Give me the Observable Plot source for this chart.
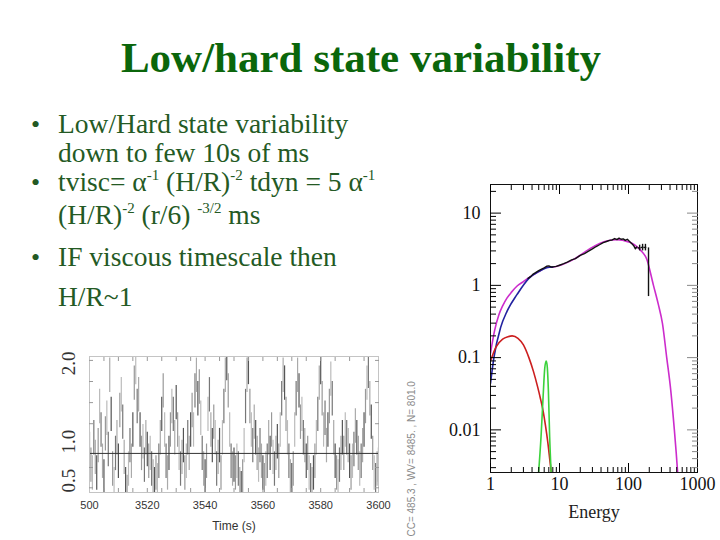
<!DOCTYPE html>
<html><head><meta charset="utf-8">
<script src="https://cdn.jsdelivr.net/npm/d3@7"></script>
<script src="https://cdn.jsdelivr.net/npm/@observablehq/plot@0.6"></script>
<style>
body{margin:0;width:720px;height:540px;overflow:hidden;background:#fff;position:relative;font-family:"Liberation Serif","Times New Roman",serif;}
#title{position:absolute;left:0;top:36px;width:722px;text-align:center;font-weight:bold;font-size:43px;color:#0b660b;line-height:1;}
.ln{position:absolute;left:58px;font-size:27.5px;color:#245a24;line-height:1;white-space:nowrap;}
.bu{position:absolute;left:31px;font-size:26px;color:#245a24;line-height:1;}
sup{font-size:15px;vertical-align:0;position:relative;top:-11px;}
#lc{position:absolute;left:40px;top:340px;}
#sp{position:absolute;left:430px;top:170px;}
#meta{position:absolute;left:336px;top:456px;width:150px;transform:rotate(-90deg);font-family:"Liberation Sans",Arial,sans-serif;font-size:10px;color:#8a8a8a;white-space:nowrap;text-align:center;}
</style></head><body>
<div id="title">Low/hard state variability</div>
<div class="bu" style="top:112px">•</div>
<div class="ln" style="top:110px">Low/Hard state variability</div>
<div class="ln" style="top:139px">down to few 10s of ms</div>
<div class="bu" style="top:170px">•</div>
<div class="ln" style="top:168px">tvisc= α<sup>-1</sup> (H/R)<sup>-2</sup> tdyn = 5 α<sup>-1</sup></div>
<div class="ln" style="top:201px">(H/R)<sup>-2</sup> (r/6) <sup>-3/2</sup> ms</div>
<div class="bu" style="top:245px">•</div>
<div class="ln" style="top:243px">IF viscous timescale then</div>
<div class="ln" style="top:283px">H/R~1</div>
<div id="lc"></div>
<div id="sp"></div>
<div id="meta">CC= 485.3 , WV= 8485. , N= 801.0</div>
<script>
// ---------- light curve data ----------
const lcStart = 3500, lcStep = 0.5;
const lcRate = [
1.05,0.85,0.75,1.2,0.95,0.75,1.1,1.6,1.3,0.9,
0.7,1.25,1.45,1.05,2.0,1.5,0.8,0.6,1.0,1.2,
0.9,1.55,1.75,1.4,0.95,0.6,0.5,0.8,1.1,0.9,
1.3,1.9,2.1,1.6,1.75,1.3,1.0,1.15,0.85,1.2,
1.05,0.9,1.0,0.8,0.7,0.6,0.75,0.65,0.9,1.2,
1.5,1.8,1.3,0.9,0.75,1.0,1.3,1.6,1.5,1.2,
1.65,1.3,1.0,0.8,0.95,1.1,0.75,0.9,1.2,1.0,
1.3,1.55,1.3,1.8,2.0,1.7,1.85,1.45,1.0,0.8,
0.7,0.9,1.5,1.75,1.3,1.1,1.4,1.2,0.8,0.95,
1.1,0.75,1.2,1.6,2.0,2.15,1.8,1.3,0.9,0.8,
0.85,0.75,0.9,0.8,0.6,0.55,0.7,1.1,1.6,2.0,
2.1,1.6,1.3,1.1,1.4,1.2,1.0,0.85,1.1,0.9,
0.75,0.65,0.8,0.9,1.2,1.0,1.3,0.95,0.8,1.0,
1.15,0.9,1.3,1.7,2.0,1.9,1.5,1.2,0.9,0.7,
0.65,0.8,1.3,1.7,2.0,1.8,1.4,1.5,1.2,1.1,
0.9,1.0,0.75,0.65,0.6,0.75,0.9,1.2,1.5,1.9,
2.1,1.7,1.3,1.45,1.1,1.3,1.6,1.95,1.7,1.2,
0.9,0.75,0.7,0.85,1.0,1.2,1.0,1.3,1.2,1.1,
0.9,0.75,0.9,1.05,1.35,1.2,1.0,0.8,0.9,1.1,
1.3,1.6,1.9,2.05,1.7,1.4,1.0,0.75,0.65,0.8,
0.85];
const lcErr = 0.22;
const lcXTicks = [3500,3520,3540,3560,3580,3600];
const lcXLabels = ["500","3520","3540","3560","3580","3600"];
const lcMinorX = [3505,3510,3515,3520,3525,3530,3535,3540,3545,3550,3555,3560,3565,3570,3575,3580,3585,3590,3595];
const lcYTicks = [0.5,1.0,2.0];
const lcYLabels = ["0.5","1.0","2.0"];
const lcSideTicks = [0.56,0.82,1.38,1.65,1.92,2.19];
const lcShades = ["#555","#999","#bbb","#777","#aaa"];

// ---------- spectrum data ----------
const magE = [1,1.15,1.32,1.5,1.74,2.0,2.43,3.0,3.6,5,6.6,8.2,10,16,28,48,68,100,120,148,184,230,270,310,358,410,462,490,515];
const magF = [0.115,0.24,0.39,0.52,0.67,0.8,0.98,1.13,1.28,1.55,1.78,1.8,1.88,2.29,3.25,4.1,4.3,4.0,3.7,3.1,2.3,1.0,0.55,0.3,0.1,0.035,0.01,0.005,0.0026];
const bluE = [1,1.12,1.4,1.74,2.43,3.6,5,6.5,8];
const bluF = [0.044,0.1,0.26,0.44,0.75,1.25,1.55,1.75,1.8];
const redE = [1,1.2,1.5,1.8,2.06,2.5,3.0,3.6,4.2,4.8,5.3,5.8,6.25,6.8,7.4,7.7];
const redF = [0.09,0.14,0.18,0.195,0.2,0.185,0.15,0.1,0.064,0.04,0.027,0.018,0.0116,0.0065,0.0032,0.0024];
const grnE = [4.95,5.4,5.8,6.1,6.4,6.6,6.9,7.2,7.6];
const grnF = [0.0024,0.008,0.03,0.07,0.09,0.08,0.035,0.008,0.0024];
const datE = [3.5,3.8,4.1,4.5,5,5.5,6,6.5,7,7.5,8,9,10,11.5,13,15,17,20,23,26,30,34,38,43,48,53,58,63,68,73,78,84,90,96,102,108,114,120,126,132];
const datF = [1.25,1.32,1.42,1.5,1.6,1.68,1.75,1.84,1.86,1.8,1.8,1.83,1.9,2.0,2.1,2.25,2.35,2.6,2.75,2.95,3.2,3.45,3.65,3.9,4.05,4.2,4.25,4.45,4.3,4.5,4.35,4.4,4.2,4.35,4.1,3.9,3.7,3.5,3.2,3.4];
const errE = [145,160,176,195];
const errF = [3.3,3.35,3.35,3.3];
const errElo = [138,153,168,195];
const errEhi = [152,167,184,195];
const errFlo = [3.0,3.0,3.0,0.7];
const errFhi = [3.6,3.7,3.7,3.3];

const xMajor = [1,10,100,1000];
const xMinor = [2,3,4,5,6,7,8,9,20,30,40,50,60,70,80,90,200,300,400,500,600,700,800,900];
const yMajor = [0.01,0.1,1,10];
const yMajorLabels = ["0.01","0.1","1","10"];
const yMinor = [0.003,0.004,0.005,0.006,0.007,0.008,0.009,0.02,0.03,0.04,0.05,0.06,0.07,0.08,0.09,0.2,0.3,0.4,0.5,0.6,0.7,0.8,0.9,2,3,4,5,6,7,8,9,20];

// ---------- light curve ----------
const lc = lcRate.map((v, i) => ({t: lcStart + i * lcStep, v}));
const sans = "Liberation Sans, Arial, sans-serif";
const serif = "Liberation Serif, Times New Roman, serif";
const lcPlot = Plot.plot({
  width: 380, height: 200, marginLeft: 49, marginRight: 42, marginTop: 16, marginBottom: 48,
  x: {domain: [3500, 3600], label: null}, y: {domain: [0.5, 2.24], label: null}, color: {type: "identity"},
  style: {fontFamily: sans, background: "transparent", overflow: "visible"},
  marks: [
    Plot.ruleX(lc, {x: "t", y1: d => d.v - lcErr, y2: d => d.v + lcErr, stroke: (d, i) => lcShades[i % lcShades.length], strokeWidth: 1.2, clip: true}),
    Plot.ruleY([1], {stroke: "#333", strokeWidth: 1}),
    Plot.frame({stroke: "#c4c4c4"}),
    Plot.axisX(lcMinorX, {anchor: "bottom", tickSize: -4, stroke: "#999", tickFormat: () => "", label: null}),
    Plot.axisX(lcMinorX, {anchor: "top", tickSize: -4, stroke: "#999", tickFormat: () => "", label: null}),
    Plot.axisY(lcSideTicks, {anchor: "left", tickSize: -4, stroke: "#999", tickFormat: () => "", label: null}),
    Plot.axisY(lcSideTicks, {anchor: "right", tickSize: -4, stroke: "#999", tickFormat: () => "", label: null}),
    Plot.text(lcXTicks, {x: d => d, text: lcXLabels, frameAnchor: "bottom", dy: 16, fontSize: 11, fill: "#333"}),
    Plot.text(lcYTicks, {y: d => d, text: lcYLabels, frameAnchor: "left", dx: -21, rotate: -90, fontSize: 19, fontFamily: serif, fill: "#333"}),
    Plot.text(["Time (s)"], {frameAnchor: "bottom", dy: 37, fontSize: 12, fill: "#333"})
  ]
});
document.getElementById("lc").append(lcPlot);

// ---------- spectrum ----------
const pts = (E, F) => E.map((e, i) => ({e, f: F[i]}));
const errs = errE.map((e, i) => ({e, f: errF[i], elo: errElo[i], ehi: errEhi[i], flo: errFlo[i], fhi: errFhi[i]}));
const sp = Plot.plot({
  width: 290, height: 370, marginLeft: 60, marginRight: 23, marginTop: 14, marginBottom: 68,
  x: {type: "log", domain: [1, 1000], label: null}, y: {type: "log", domain: [0.00257, 24.9], label: null},
  style: {fontFamily: serif, background: "transparent", overflow: "visible"},
  marks: [
    Plot.line(pts(magE, magF), {x: "e", y: "f", stroke: "#cc2ccc", strokeWidth: 1.6, curve: "monotone-x", clip: true}),
    Plot.line(pts(bluE, bluF), {x: "e", y: "f", stroke: "#2222a0", strokeWidth: 1.6, curve: "monotone-x", clip: true}),
    Plot.line(pts(redE, redF), {x: "e", y: "f", stroke: "#cc1f1f", strokeWidth: 1.6, curve: "monotone-x", clip: true}),
    Plot.line(pts(grnE, grnF), {x: "e", y: "f", stroke: "#3cd23c", strokeWidth: 1.6, curve: "monotone-x", clip: true}),
    Plot.line(pts(datE, datF), {x: "e", y: "f", stroke: "#111", strokeWidth: 1.4, clip: true}),
    Plot.ruleY(errs, {y: "f", x1: "elo", x2: "ehi", stroke: "#111", strokeWidth: 1.4}),
    Plot.ruleX(errs, {x: "e", y1: "flo", y2: "fhi", stroke: "#111", strokeWidth: 1.4}),
    Plot.frame({stroke: "#111"}),
    Plot.axisX(xMajor, {anchor: "bottom", tickSize: -9, tickFormat: () => "", label: null}),
    Plot.axisX(xMinor, {anchor: "bottom", tickSize: -5, tickFormat: () => "", label: null}),
    Plot.axisX(xMajor, {anchor: "top", tickSize: -9, tickFormat: () => "", label: null}),
    Plot.axisX(xMinor, {anchor: "top", tickSize: -5, tickFormat: () => "", label: null}),
    Plot.axisY(yMajor, {anchor: "left", tickSize: -11, tickFormat: () => "", label: null}),
    Plot.axisY(yMinor, {anchor: "left", tickSize: -6, tickFormat: () => "", label: null}),
    Plot.axisY(yMajor, {anchor: "right", tickSize: -11, stroke: "#888", tickFormat: () => "", label: null}),
    Plot.axisY(yMinor, {anchor: "right", tickSize: -6, stroke: "#888", tickFormat: () => "", label: null}),
    Plot.text(yMajor, {y: d => d, text: yMajorLabels, frameAnchor: "left", dx: -10, textAnchor: "end", fontSize: 18, fill: "#111"}),
    Plot.text(xMajor, {x: d => d, text: xMajor.map(String), frameAnchor: "bottom", dy: 17, fontSize: 18, fill: "#111"}),
    Plot.text(["Energy"], {frameAnchor: "bottom", dy: 45, fontSize: 18, fill: "#222", letterSpacing: 1})
  ]
});
document.getElementById("sp").append(sp);
</script>
</body></html>
